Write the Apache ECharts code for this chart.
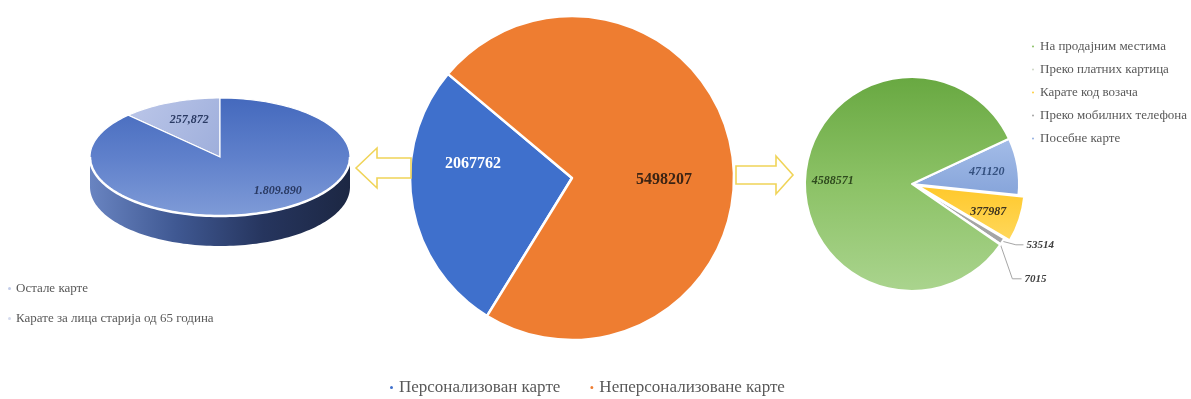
<!DOCTYPE html>
<html>
<head>
<meta charset="utf-8">
<script src="https://cdn.jsdelivr.net/npm/echarts@6/dist/echarts.min.js"></script>
<style>
  html, body { margin: 0; padding: 0; background: #ffffff; }
  #chart { width: 1191px; height: 399px; }
</style>
</head>
<body>
<div id="chart"></div>
<script>
// Ticket sales: personalised vs non-personalised, each broken down further.
const mainNames = ['Персонализован карте', 'Неперсонализоване карте'];
const mainValues = [2067762, 5498207];

const channelNames = ['Посебне карте', 'Карате код возача', 'Преко мобилних телефона', 'Преко платних картица', 'На продајним местима'];
const channelValues = [471120, 377987, 53514, 7015, 4588571];
const channelLegendOrder = ['На продајним местима', 'Преко платних картица', 'Карате код возача', 'Преко мобилних телефона', 'Посебне карте'];

const personalNames = ['Карате за лица старија од 65 година', 'Остале карте'];
const personalValues = [257872, 1809890];
const personalLegendOrder = ['Остале карте', 'Карате за лица старија од 65 година'];

// ---- styling / layout ----
const SERIF = 'Liberation Serif, Times New Roman, serif';
const lg = (x0, y0, x1, y1, stops) =>
  new echarts.graphic.LinearGradient(x0, y0, x1, y1, stops.map((c, i) => ({ offset: i / (stops.length - 1), color: c })));

const mainColors = ['#3f70cc', '#ee7d31'];
const mainLabelColors = ['#ffffff', '#3b2414'];
const mainLabelNudge = [[-16, -28], [9, 15]];

const channelColors = [
  lg(0, 0, 0, 1, ['#a4bde8', '#86a4da']),
  lg(0, 0, 0, 1, ['#ffc82a', '#ffd85c']),
  '#a5a5a5',
  '#cfd8c6',
  lg(0, 0, 0, 1, ['#68a841', '#8cc266', '#aad48e'])
];
const channelLabelNudge = [[19, -3], [17, 8], [-6, -5], [-2, 16], [-23, 2]];
const channelLabelColors = ['#34507f', '#3d3320', '#404040', '#404040', '#2f4a1e'];

// tilted pie geometry (ellipse centre, radii, wall height)
const PIE3D = { cx: 220, cy: 157, rx: 130, ry: 59, depth: 30, start: 90 };
const personalTop = [
  lg(0, 0, 1, 1, ['#bcc7e9', '#9eaedb']),
  lg(0, 0, 0, 1, ['#4469bd', '#5f80cb', '#7f9bd7'])
];
const personalLegendColors = ['#d5dbee', '#c3cde9'];
const personalSep = [',', '.'];
const personalLabelPos = [[0.62, 0, -3], [0.62, 27, 0]]; // radius factor, dx, dy

function fmt(v, sep) {
  return String(v).replace(/\B(?=(\d{3})+(?!\d))/g, sep);
}

function ellipsePt(a, dy) {
  return [PIE3D.cx + PIE3D.rx * Math.cos(a), PIE3D.cy - PIE3D.ry * Math.sin(a) + (dy || 0)];
}

function arcPts(a0, a1, dy) {
  const pts = [];
  const n = Math.max(2, Math.ceil(Math.abs(a1 - a0) / 0.03));
  for (let k = 0; k <= n; k++) pts.push(ellipsePt(a0 + (a1 - a0) * k / n, dy));
  return pts;
}

function tiltedSlice(i) {
  return function (params, api) {
    const total = personalValues.reduce((a, b) => a + b, 0);
    let before = 0;
    for (let k = 0; k < i; k++) before += personalValues[k];
    const a0 = PIE3D.start * Math.PI / 180 + before / total * 2 * Math.PI;
    const a1 = a0 + api.value(0) / total * 2 * Math.PI;
    const children = [];
    // front wall: the part of the arc that faces the viewer
    [0, 2 * Math.PI].forEach(off => {
      const lo = Math.max(a0, Math.PI + off);
      const hi = Math.min(a1, 2 * Math.PI + off);
      if (lo < hi) {
        const top = arcPts(lo, hi, 0);
        const bottom = arcPts(hi, lo, PIE3D.depth);
        children.push({
          type: 'polygon', z2: 1,
          shape: { points: top.concat(bottom) },
          style: { fill: lg(0, 0, 1, 0, ['#6984c1', '#3f5892', '#26355e', '#1c2743']) }
        });
        children.push({
          type: 'polyline', z2: 3,
          shape: { points: top },
          style: { stroke: '#ffffff', lineWidth: 2.5, fill: null }
        });
      }
    });
    children.push({
      type: 'polygon', z2: 2,
      shape: { points: [[PIE3D.cx, PIE3D.cy]].concat(arcPts(a0, a1, 0)) },
      style: { fill: personalTop[i], stroke: '#ffffff', lineWidth: 1.2 }
    });
    const mid = (a0 + a1) / 2;
    const lp = personalLabelPos[i];
    children.push({
      type: 'text', z2: 5,
      x: PIE3D.cx + PIE3D.rx * lp[0] * Math.cos(mid) + lp[1],
      y: PIE3D.cy - PIE3D.ry * lp[0] * Math.sin(mid) + lp[2],
      style: {
        text: fmt(api.value(0), personalSep[i]),
        fill: '#2a3a63', font: 'italic bold 12px ' + SERIF,
        align: 'center', verticalAlign: 'middle'
      }
    });
    return { type: 'group', children };
  };
}

const personalSeries = personalNames.map((name, i) => ({
  type: 'custom',
  name,
  coordinateSystem: 'none',
  silent: true,
  itemStyle: { color: personalLegendColors[i] },
  renderItem: tiltedSlice(i),
  data: [[personalValues[i]]]
}));

function arrow(points) {
  return {
    type: 'polygon',
    shape: { points },
    style: { fill: '#ffffff', stroke: '#f0d458', lineWidth: 1.6 },
    z: 5
  };
}

// shift a label and carry the bent part of its leader line along with it
function channelLabelLayout(p) {
  const d = channelLabelNudge[p.dataIndex];
  const out = { dx: d[0], dy: d[1] };
  if (p.labelLinePoints && p.labelLinePoints.length === 3) {
    const pts = p.labelLinePoints.map(q => [q[0], q[1]]);
    pts[1] = [pts[1][0] + d[0] * 0.6, pts[1][1] + d[1]];
    pts[2] = [pts[2][0] + d[0], pts[2][1] + d[1]];
    out.labelLinePoints = pts;
  }
  return out;
}

const option = {
  backgroundColor: '#ffffff',
  animation: false,
  legend: [
    {
      data: mainNames,
      left: 383, top: 374,
      icon: 'circle', itemWidth: 5, itemHeight: 5, itemGap: 28,
      textStyle: { fontFamily: SERIF, fontSize: 17, color: '#595959' }
    },
    {
      data: channelLegendOrder,
      orient: 'vertical', left: 1025, top: 35,
      icon: 'circle', itemWidth: 4, itemHeight: 4, itemGap: 10,
      textStyle: { fontFamily: SERIF, fontSize: 13, color: '#595959' }
    },
    {
      data: personalLegendOrder,
      orient: 'vertical', left: 3, top: 277,
      icon: 'circle', itemWidth: 3, itemHeight: 3, itemGap: 17,
      textStyle: { fontFamily: SERIF, fontSize: 13, color: '#595959' }
    }
  ],
  graphic: [
    arrow([[356, 168], [377, 148], [377, 158], [411, 158], [411, 178], [377, 178], [377, 188]]),
    arrow([[736, 166], [776, 166], [776, 156], [793, 175], [776, 194], [776, 184], [736, 184]])
  ],
  series: [
    {
      type: 'pie',
      name: 'main',
      center: [572, 178],
      radius: 162,
      startAngle: 140,
      clockwise: false,
      silent: true,
      itemStyle: { borderColor: '#ffffff', borderWidth: 2.5 },
      label: {
        position: 'inside',
        fontFamily: SERIF, fontWeight: 'bold', fontSize: 16,
        formatter: p => String(p.value)
      },
      labelLine: { show: false },
      labelLayout: p => ({ dx: mainLabelNudge[p.dataIndex][0], dy: mainLabelNudge[p.dataIndex][1] }),
      data: mainNames.map((name, i) => ({
        name, value: mainValues[i],
        itemStyle: { color: mainColors[i] },
        label: { color: mainLabelColors[i] }
      }))
    },
    {
      type: 'pie',
      name: 'channels',
      center: [912, 184],
      radius: 107,
      startAngle: 25,
      clockwise: true,
      silent: true,
      selectedMode: 'multiple',
      selectedOffset: 6,
      itemStyle: { borderColor: '#ffffff', borderWidth: 2 },
      label: {
        position: 'inside',
        fontFamily: SERIF, fontStyle: 'italic', fontWeight: 'bold', fontSize: 12,
        formatter: p => String(p.value)
      },
      labelLine: { show: false },
      labelLayout: channelLabelLayout,
      data: channelNames.map((name, i) => {
        const small = channelValues[i] < 100000;
        return {
          name, value: channelValues[i],
          selected: i === 1,
          itemStyle: { color: channelColors[i] },
          label: small
            ? { position: 'outside', color: '#404040', fontSize: 11, distanceToLabelLine: 3 }
            : { color: channelLabelColors[i] },
          labelLine: small
            ? { show: true, length: 16, length2: 10, lineStyle: { color: '#a6a6a6', width: 1 } }
            : { show: false }
        };
      })
    }
  ].concat(personalSeries)
};

const chart = echarts.init(document.getElementById('chart'), null, { renderer: 'canvas' });
chart.setOption(option);
</script>
</body>
</html>
